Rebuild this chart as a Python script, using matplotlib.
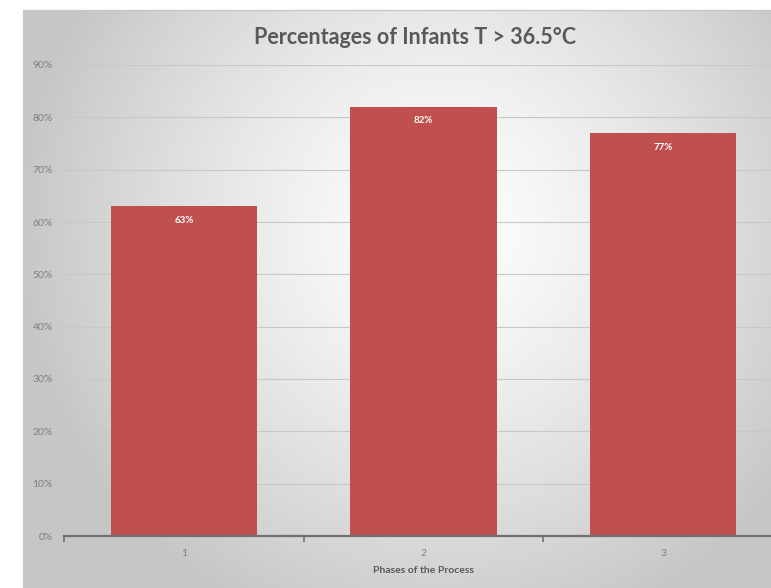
import numpy as np
import matplotlib
matplotlib.use("Agg")
import matplotlib.pyplot as plt
from matplotlib.ticker import FixedLocator, PercentFormatter

plt.rcParams['font.family'] = ['Lato', 'DejaVu Sans']

phases = ["1", "2", "3"]
percentages = [63, 82, 77]
y_ticks = [0, 10, 20, 30, 40, 50, 60, 70, 80, 90]
title = "Percentages of Infants T > 36.5°C"
x_label = "Phases of the Process"

W, H = 771, 588
fig = plt.figure(figsize=(W / 100, H / 100), dpi=100)
fig.patch.set_facecolor("white")

# Chart panel with radial gradient fill
px0, py0, px1, py1 = 23, 10, 771, 588
bg = fig.add_axes([px0 / W, 1 - py1 / H, (px1 - px0) / W, (py1 - py0) / H], zorder=0)
nx, ny = 400, 300
xs = np.linspace(px0, px1, nx)
ys = np.linspace(py0, py1, ny)
X, Y = np.meshgrid(xs, ys)
cx, cy = 440, 230
r = np.sqrt(((X - cx) / 420) ** 2 + ((Y - cy) / 420) ** 2)
r = np.clip(r, 0, 1)
shade = 1.0 - 0.22 * r ** 1.3
img = np.dstack([shade, shade, shade])
bg.imshow(img, extent=[0, 1, 0, 1], aspect="auto", origin="upper")
bg.set_axis_off()
# panel border
bg.plot([0, 0, 1], [0, 1, 1], color="#c8c8c8", lw=1.0, transform=bg.transAxes, clip_on=False)

# Plot area
ax_l, ax_r = 64, 783
ax_top, ax_bot = 65, 536
ax = fig.add_axes([ax_l / W, 1 - ax_bot / H, (ax_r - ax_l) / W, (ax_bot - ax_top) / H], zorder=1)
ax.patch.set_alpha(0)

x = np.arange(len(phases))
bars = ax.bar(x, percentages, width=0.61, color="#c0504d", zorder=3)
ax.set_xlim(-0.5, len(phases) - 0.5)
ax.set_ylim(0, 90)

ax.yaxis.set_major_locator(FixedLocator(y_ticks))
ax.yaxis.set_major_formatter(PercentFormatter(decimals=0))
ax.grid(axis="y", color="#c8c8c8", lw=0.8, zorder=0)
ax.set_axisbelow(True)
for s in ["top", "right", "left"]:
    ax.spines[s].set_visible(False)
ax.spines["bottom"].set_color("#6f6f6f")
ax.spines["bottom"].set_linewidth(1.6)
ax.spines["bottom"].set_zorder(4)

ax.tick_params(axis="y", length=0, labelsize=7.5, labelcolor="#7f7f7f", pad=8)
ax.set_xticks(x)
ax.set_xticklabels(phases)
ax.tick_params(axis="x", length=0, labelsize=7.5, labelcolor="#7f7f7f", pad=9)
# category boundary ticks
ax.set_xticks(np.arange(len(phases) + 1) - 0.5, minor=True)
ax.tick_params(axis="x", which="minor", length=4, width=1.2, color="#6f6f6f", direction="out")

ax.set_xlabel(x_label, fontsize=7.5, color="#595959", fontweight="bold", labelpad=6)

for b, v in zip(bars, percentages):
    ax.text(b.get_x() + b.get_width() / 2, v - 2.7, f"{v}%", ha="center", va="center",
            color="white", fontsize=7, fontweight="bold", zorder=5)

fig.text(415 / W, 1 - 37 / H, title, ha="center", va="center", fontsize=15.5,
         fontweight="bold", color="#595959")

fig.savefig("out.png", dpi=100, facecolor=fig.get_facecolor())
